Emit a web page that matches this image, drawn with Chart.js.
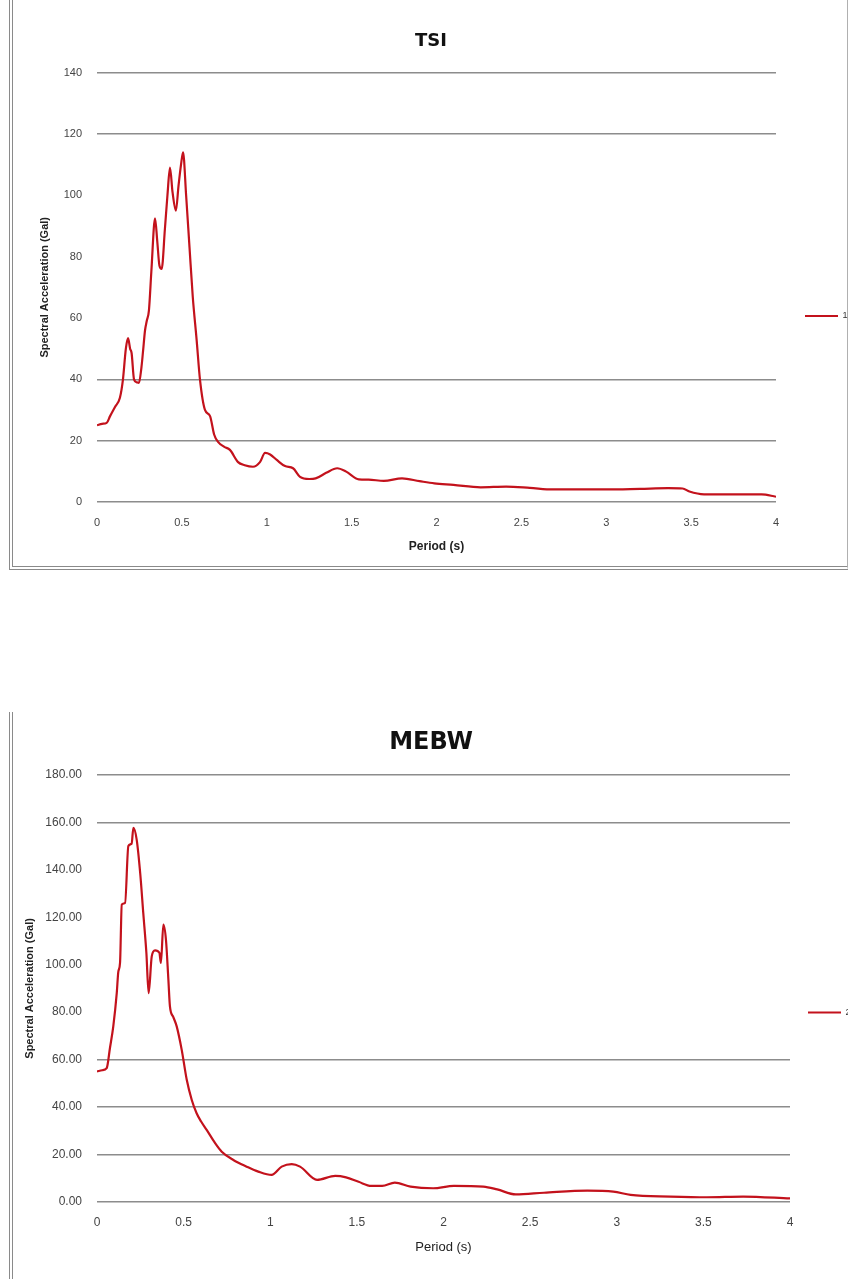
<!DOCTYPE html>
<html>
<head>
<meta charset="utf-8">
<script src="https://cdn.jsdelivr.net/npm/chart.js@4.4.0/dist/chart.umd.min.js"></script>
<style>
  body { margin: 0; background: #fff; width: 848px; height: 1279px; position: relative; overflow: hidden; }
  .frame { position: absolute; box-sizing: border-box; }
  #frameTop { left: 9px; top: -6px; width: 839px; height: 576px; border-left: 4px double #8a8a8a; border-bottom: 4px double #8a8a8a; border-right: 1px solid #b0b0b0; }
  #frameBottom { left: 9px; top: 712px; width: 839px; height: 580px; border-left: 4px double #8a8a8a; }
  canvas { position: absolute; }
  #tsiChart { left: 14px; top: 0px; }
  #mebwChart { left: 14px; top: 712px; }
</style>
</head>
<body>
<div class="frame" id="frameTop"></div>
<div class="frame" id="frameBottom"></div>
<canvas id="tsiChart" width="834" height="566"></canvas>
<canvas id="mebwChart" width="834" height="567"></canvas>
<script>
// TSI spectrum, period (s) and spectral acceleration (Gal)
const tsiPeriod = [0, 0.03, 0.057, 0.077, 0.106, 0.135, 0.153, 0.17, 0.183, 0.195, 0.204, 0.218, 0.235, 0.247, 0.262, 0.271, 0.283, 0.293, 0.306, 0.32, 0.342, 0.355, 0.368, 0.381, 0.4, 0.415, 0.43, 0.445, 0.465, 0.48, 0.495, 0.507, 0.525, 0.545, 0.564, 0.587, 0.607, 0.636, 0.666, 0.69, 0.713, 0.75, 0.783, 0.831, 0.87, 0.919, 0.96, 0.99, 1.02, 1.059, 1.108, 1.155, 1.196, 1.25, 1.288, 1.35, 1.415, 1.468, 1.542, 1.6, 1.69, 1.797, 1.9, 1.987, 2.1, 2.26, 2.41, 2.55, 2.686, 2.85, 3.0, 3.2, 3.364, 3.45, 3.49, 3.576, 3.75, 3.915, 4.0];
const tsiAccel = [25, 25.5, 25.8, 28, 31, 34, 40, 50, 53.4, 50, 48.5, 40, 39, 38.8, 44, 49, 56, 59, 62.5, 75, 92.5, 85, 77, 76, 89, 100, 109, 101, 95, 103, 110, 114, 100, 83, 67, 52.8, 39.7, 30, 28, 22, 19.6, 18, 17, 13, 12, 11.5, 13, 16, 15.5, 13.7, 11.7, 11, 8.2, 7.5, 7.7, 9.5, 11, 9.9, 7.4, 7.3, 6.9, 7.7, 6.8, 6.1, 5.6, 4.8, 5, 4.6, 4.1, 4.1, 4.1, 4.3, 4.5, 4.4, 3.4, 2.5, 2.5, 2.5, 1.7];

// MEBW spectrum
const mebwPeriod = [0, 0.03, 0.056, 0.075, 0.094, 0.114, 0.123, 0.133, 0.143, 0.162, 0.181, 0.2, 0.21, 0.229, 0.25, 0.267, 0.285, 0.298, 0.316, 0.335, 0.36, 0.369, 0.383, 0.398, 0.412, 0.421, 0.44, 0.46, 0.489, 0.518, 0.547, 0.575, 0.6, 0.633, 0.68, 0.72, 0.787, 0.864, 0.931, 1.008, 1.066, 1.124, 1.172, 1.27, 1.375, 1.4375, 1.51, 1.583, 1.646, 1.719, 1.81, 1.94, 2.06, 2.23, 2.31, 2.417, 2.58, 2.83, 2.98, 3.08, 3.31, 3.52, 3.73, 4.0];
const mebwAccel = [55, 55.5, 56.4, 65, 74, 88, 97, 100.8, 125.3, 126, 150, 151, 157.7, 152.7, 138, 121.8, 105, 88, 103.5, 106, 105, 100.7, 116.9, 110.5, 93.7, 82.4, 78, 74, 64.1, 51.5, 43, 37.4, 34, 30.4, 25, 21.2, 17.7, 14.9, 12.8, 11.4, 14.9, 16, 14.9, 9.3, 11, 10.4, 8.5, 6.8, 6.8, 8.2, 6.5, 5.8, 6.8, 6.5, 5.3, 3.2, 3.9, 4.8, 4.4, 3, 2.3, 2, 2.3, 1.5];

// axis ranges and which horizontal gridlines show up in the picture
const tsiYMax = 140;
const mebwYMax = 180;
const tsiGridShown = [0, 20, 40, 120, 140];
const mebwGridShown = [0, 20, 40, 60, 160, 180];

const lineRed = '#c3121c';
const gridGray = '#8c8c8c';
const tickColor = '#444';

function toPoints(xs, ys) {
    return xs.map((x, i) => ({ x: x, y: ys[i] }));
}

function makeChart(id, cfg) {
    const ctx = document.getElementById(id).getContext('2d');
    return new Chart(ctx, {
        type: 'line',
        data: {
            datasets: [{
                label: cfg.label,
                data: toPoints(cfg.xs, cfg.ys),
                borderColor: lineRed,
                backgroundColor: lineRed,
                borderWidth: 2.2,
                pointRadius: 0,
                cubicInterpolationMode: 'monotone',
                fill: false,
            }],
        },
        options: {
            responsive: false,
            animation: false,
            devicePixelRatio: 1,
            layout: { padding: 0 },
            plugins: {
                title: {
                    display: true,
                    text: cfg.title,
                    color: '#111',
                    font: { family: 'DejaVu Sans', size: cfg.titleSize, weight: 'bold' },
                    padding: cfg.titlePad,
                },
                legend: {
                    position: 'right',
                    maxWidth: cfg.legendWidth,
                    // empty legend title only pushes the entry down a bit
                    title: { display: true, text: ' ', font: { size: 10 }, padding: cfg.legendDrop },
                    labels: {
                        boxWidth: 33,
                        boxHeight: 0,
                        padding: cfg.legendPad,
                        color: '#333',
                        font: { family: 'Liberation Sans', size: 9 },
                    },
                },
                tooltip: { enabled: false },
            },
            scales: {
                x: {
                    type: 'linear',
                    min: 0,
                    max: 4,
                    ticks: {
                        stepSize: 0.5,
                        color: tickColor,
                        padding: cfg.xTickPad,
                        maxRotation: 0,
                        font: { family: 'Liberation Sans', size: cfg.tickSize },
                        callback: v => String(v),
                    },
                    grid: { display: false, drawTicks: false },
                    border: { display: false },
                    title: {
                        display: true,
                        text: 'Period (s)',
                        color: '#222',
                        font: { family: 'Liberation Sans', size: cfg.xTitleSize, weight: cfg.xTitleWeight },
                        padding: { top: 0, bottom: cfg.xTitlePadBottom },
                    },
                    afterFit: s => { s.height = cfg.xHeight; },
                },
                y: {
                    min: 0,
                    max: cfg.yMax,
                    ticks: {
                        stepSize: 20,
                        color: tickColor,
                        padding: 15,
                        font: { family: 'Liberation Sans', size: cfg.tickSize },
                        callback: cfg.yFormat,
                    },
                    grid: {
                        drawTicks: false,
                        lineWidth: 1.4,
                        color: c => (c.tick && cfg.gridShown.includes(c.tick.value)) ? gridGray : 'rgba(0,0,0,0)',
                    },
                    border: { display: false },
                    title: {
                        display: true,
                        text: 'Spectral Acceleration (Gal)',
                        color: '#222',
                        font: { family: 'Liberation Sans', size: 11, weight: 'bold' },
                        padding: { top: cfg.yTitlePadTop, bottom: 0 },
                    },
                    afterFit: s => { s.width = 83; },
                },
            },
        },
    });
}

makeChart('tsiChart', {
    label: '1',
    title: 'TSI',
    titleSize: 18,
    titlePad: { top: 31, bottom: 20 },
    xs: tsiPeriod,
    ys: tsiAccel,
    yMax: tsiYMax,
    gridShown: tsiGridShown,
    yFormat: v => String(v),
    tickSize: 11,
    xTickPad: 14,
    xTitleSize: 12,
    xTitleWeight: 'bold',
    xTitlePadBottom: 12,
    xHeight: 64,
    yTitlePadTop: 24,
    legendWidth: 72,
    legendPad: 29,
    legendDrop: 27,
});

makeChart('mebwChart', {
    label: '2',
    title: 'MEBW',
    titleSize: 24,
    titlePad: { top: 16, bottom: 18 },
    xs: mebwPeriod,
    ys: mebwAccel,
    yMax: mebwYMax,
    gridShown: mebwGridShown,
    yFormat: v => v.toFixed(2),
    tickSize: 12,
    xTickPad: 13,
    xTitleSize: 13,
    xTitleWeight: 'normal',
    xTitlePadBottom: 24,
    xHeight: 77,
    yTitlePadTop: 9,
    legendWidth: 58,
    legendPad: 18,
    legendDrop: 11,
});
</script>
</body>
</html>
